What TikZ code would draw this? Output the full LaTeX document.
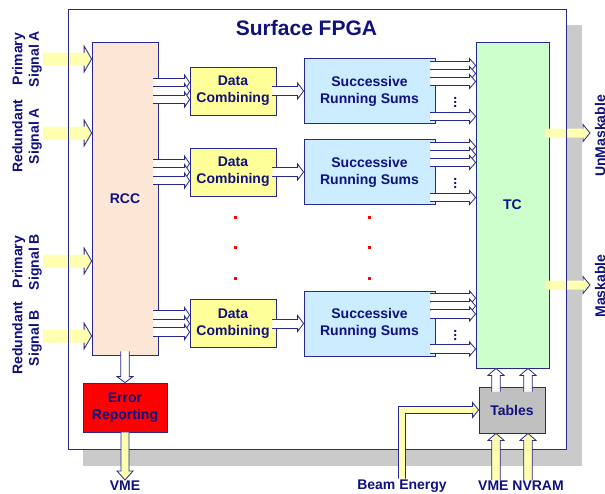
\documentclass[tikz,border=0pt]{standalone}
\usepackage{fontspec}
\setmainfont{Liberation Sans}
\usetikzlibrary{calc}

\definecolor{navy}{RGB}{16,16,126}
\definecolor{edgeblue}{RGB}{40,40,140}
\definecolor{rccfill}{RGB}{252,230,214}
\definecolor{dcfill}{RGB}{255,255,153}
\definecolor{srsfill}{RGB}{204,236,255}
\definecolor{tcfill}{RGB}{204,255,204}
\definecolor{tabfill}{RGB}{192,192,192}
\definecolor{paleyellow}{RGB}{255,255,176}
\definecolor{shadowgray}{RGB}{202,202,202}

\tikzset{
    shaft/.store in=\shaftw, barb/.store in=\barbw, tiplen/.store in=\tipl,
    shaft line/.store in=\shaftcol,
    shaft=4.2, barb=7.5, tiplen=5, shaft line=edgeblue,
    whitearrow/.style={fill=white, line width=0.8pt},
    yellowarrow/.style={fill=paleyellow, line width=0.8pt},
}

% block arrow pointing right: tail x from #2, tip at #3
\newcommand{\harrow}[3][]{%
    \fill[#1] let \p1=#2, \p2=#3 in
        (\x1,{\y2+\shaftw pt}) -- ({\x2-\tipl pt},{\y2+\shaftw pt}) -- ({\x2-\tipl pt},{\y2+\barbw pt})
        -- (\x2,\y2) -- ({\x2-\tipl pt},{\y2-\barbw pt}) -- ({\x2-\tipl pt},{\y2-\shaftw pt})
        -- (\x1,{\y2-\shaftw pt}) -- cycle;
    \draw[#1, fill=none, draw=\shaftcol] let \p1=#2, \p2=#3 in
        (\x1,{\y2+\shaftw pt}) -- ({\x2-\tipl pt},{\y2+\shaftw pt})
        (\x1,{\y2-\shaftw pt}) -- ({\x2-\tipl pt},{\y2-\shaftw pt});
    \draw[#1, fill=none, draw=edgeblue] let \p1=#2, \p2=#3 in
        ({\x2-\tipl pt},{\y2+\shaftw pt}) -- ({\x2-\tipl pt},{\y2+\barbw pt}) -- (\x2,\y2)
        -- ({\x2-\tipl pt},{\y2-\barbw pt}) -- ({\x2-\tipl pt},{\y2-\shaftw pt});
}
% block arrow up or down: tail y from #2, tip at #3
\newcommand{\varrow}[3][]{%
    \draw[#1, draw=edgeblue] let \p1=#2, \p2=#3, \n1={sign(\y2-\y1)} in
        ({\x2-\shaftw pt},\y1) -- ({\x2-\shaftw pt},{\y2-\n1*\tipl pt}) -- ({\x2-\barbw pt},{\y2-\n1*\tipl pt})
        -- (\x2,\y2) -- ({\x2+\barbw pt},{\y2-\n1*\tipl pt}) -- ({\x2+\shaftw pt},{\y2-\n1*\tipl pt})
        -- ({\x2+\shaftw pt},\y1);
}

\begin{document}
\begin{tikzpicture}[x=1pt, y=-1pt,
    every node/.style={font=\bfseries\fontsize{14}{17}\selectfont, text=navy, align=center, inner sep=1pt},
    box/.style={draw=edgeblue, line width=0.8pt, inner sep=0pt}]
    \useasboundingbox (0,0) rectangle (605,493);

    % FPGA frame and its shadow
        \coordinate (fnw) at (68,9);
        \coordinate (fse) at (566,449);
        \fill[shadowgray] ([shift={(15,16)}]fnw) rectangle ([shift={(16,17)}]fse);
        \fill[white] (fnw) rectangle (fse);
        \node (title) at (306.5,27.5) {\fontsize{21}{24}\selectfont Surface FPGA};

    % Boxes
        \node[box, fill=rccfill, minimum width=66pt, minimum height=313pt] (rcc) at (125,198.5) {RCC};
        \foreach \k/\yy in {1/91, 2/172, 3/323.5} {
            \node[box, fill=dcfill, minimum width=86pt, minimum height=48pt] (dc\k) at (233,\yy) {Data\\Combining};
            \node[box, fill=srsfill, minimum width=131pt, minimum height=65pt] (srs\k) at (369.5,\yy) {Successive\\Running Sums};
        }
        \node[box, fill=tcfill, minimum width=73pt, minimum height=326pt] (tc) at (512.5,205) {TC};
        \node[box, fill=tabfill, minimum width=66pt, minimum height=46pt] (tables) at (512,410) {Tables};
        \node[box, fill=red, minimum width=84pt, minimum height=49pt] (err) at (125,407.5) {Error\\Reporting};

    % Input signals
        \foreach \s/\yy in {pa/59, ra/133, pb/261, rb/336} {
            \coordinate (\s) at (43,\yy);
            \harrow[yellowarrow, shaft=6.5, barb=13, tiplen=7.5, shaft line=none]{(\s)}{(\s -| rcc.west)};
        }
        \node[rotate=90, font=\bfseries\fontsize{14}{16.5}\selectfont] (lpa) at (27,59) {Primary\\Signal A};
        \node[rotate=90, font=\bfseries\fontsize{14}{16.5}\selectfont] (lra) at (27,136) {Redundant\\Signal A};
        \node[rotate=90, font=\bfseries\fontsize{14}{16.5}\selectfont] (lpb) at (27,262) {Primary\\Signal B};
        \node[rotate=90, font=\bfseries\fontsize{14}{16.5}\selectfont] (lrb) at (27,338) {Redundant\\Signal B};

    % Outputs of TC
        \coordinate (unm) at (590,133);
        \coordinate (msk) at (590,285);
        \harrow[yellowarrow, shaft=4.5, barb=8.5, tiplen=7, shaft line=none]{([xshift=-4pt]tc.east)}{(unm)};
        \harrow[yellowarrow, shaft=4.5, barb=8.5, tiplen=7, shaft line=none]{([xshift=-4pt]tc.east)}{(msk)};
        \node[rotate=90, anchor=base] (lunm) at (605,136) {UnMaskable};
        \node[rotate=90, anchor=base] (lmsk) at (605,286) {Maskable};

        \draw[edgeblue, line width=0.8pt] (fnw) rectangle (fse);

    % Data paths
        \foreach \k in {1,2,3} {
            \foreach \d in {-8.5,0,8.5}
                \harrow[whitearrow, barb=7.5]{([xshift=-5pt]rcc.east)}{($(dc\k.west)+(0,\d)$)};
            \harrow[whitearrow, shaft=4.5, barb=8, tiplen=6]{([xshift=-4pt]dc\k.east)}{(srs\k.west)};
            \foreach \d in {-25.5,-17.5,-9.5,25.5}
                \harrow[whitearrow, barb=7, tiplen=6]{([xshift=-5pt]srs\k.east)}{($(tc.west |- srs\k.center)+(0,\d)$)};
            \node (dots\k) at ($(srs\k.east)+(20,8.5)$) {\vdots};
        }

    % Dots between rows
        \foreach \xx in {235,369}
            \foreach \yy in {217,247,278}
                \fill[red] (\xx-1.5,\yy-1.5) rectangle ++(3,3);

    % Bottom connections
        \node (vme) at (125,486) {VME};
        \node (beam) at (402,486) {Beam Energy};
        \node (nvram) at (521,486) {VME NVRAM};
        \varrow[whitearrow, barb=8, tiplen=6]{([yshift=4pt]rcc.south)}{(err.north)};
        \varrow[yellowarrow, shaft=4, barb=8, tiplen=9]{(err.south)}{(vme.north)};
        \foreach \xx in {496,528} {
            \varrow[whitearrow, barb=8, tiplen=7]{($(\xx,0 |- tables.north)+(0,5)$)}{(\xx,0 |- tc.south)};
            \varrow[yellowarrow, barb=8, tiplen=7]{(\xx,0 |- nvram.north)}{(\xx,0 |- tables.south)};
        }
        \draw[fill=paleyellow, draw=edgeblue, line width=0.8pt] let \p1=(beam.north), \p2=(tables.west) in
            ({\x1-3.5pt},\y1) -- ({\x1-3.5pt},{\y2+3.5pt}) -- ({\x2-6pt},{\y2+3.5pt}) -- ({\x2-6pt},{\y2+7.5pt})
            -- (\x2,\y2) -- ({\x2-6pt},{\y2-7.5pt}) -- ({\x2-6pt},{\y2-3.5pt}) -- ({\x1+3.5pt},{\y2-3.5pt})
            -- ({\x1+3.5pt},\y1);
\end{tikzpicture}
\end{document}
